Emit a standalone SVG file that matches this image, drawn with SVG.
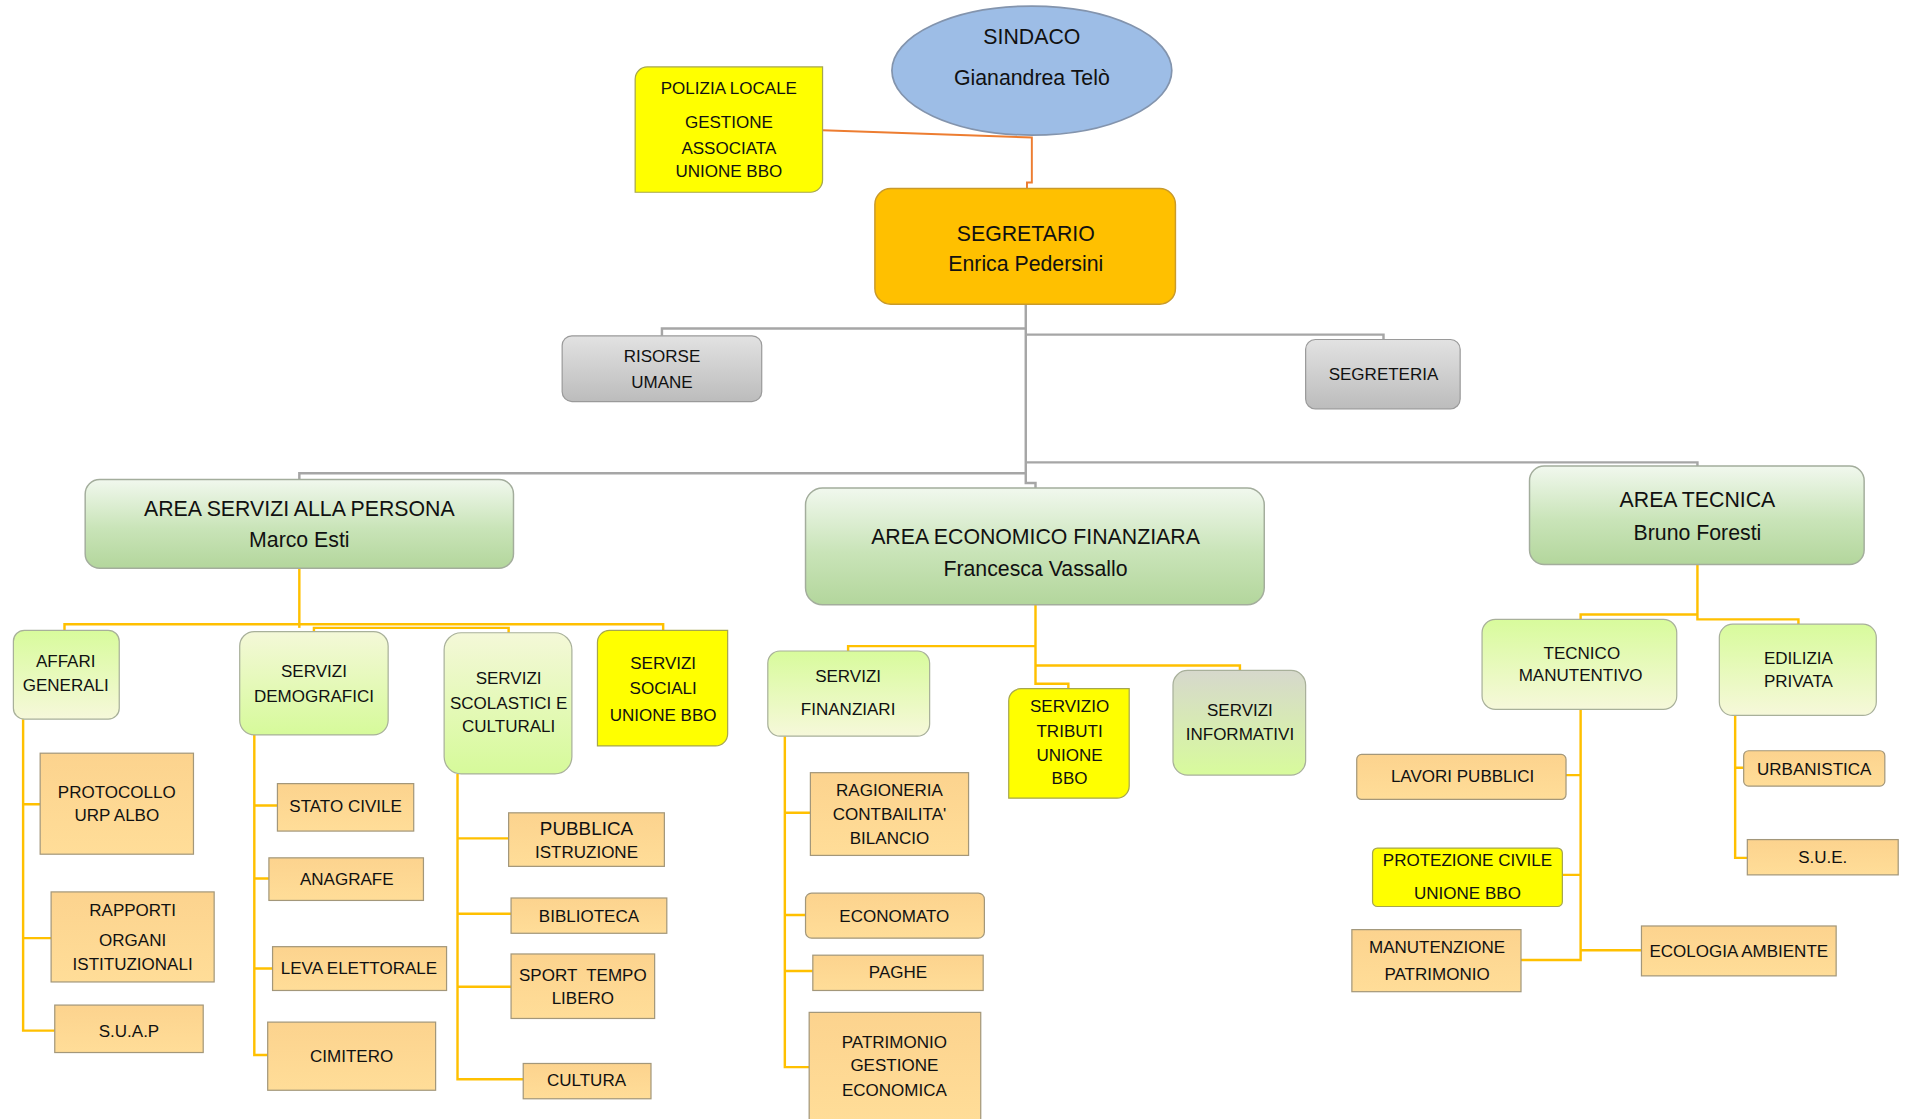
<svg xmlns="http://www.w3.org/2000/svg" width="1908" height="1119" viewBox="0 0 1908 1119">
<defs>
<linearGradient id="gArea" x1="0" y1="0" x2="0" y2="1">
<stop offset="0" stop-color="#f1f8ee"/><stop offset="0.55" stop-color="#c9e4b8"/><stop offset="1" stop-color="#b3d69c"/>
</linearGradient>
<linearGradient id="gGreenDown" x1="0" y1="0" x2="0" y2="1">
<stop offset="0" stop-color="#d8fb9c"/><stop offset="1" stop-color="#f6f8da"/>
</linearGradient>
<linearGradient id="gGreenUp" x1="0" y1="0" x2="0" y2="1">
<stop offset="0" stop-color="#f4f8d8"/><stop offset="1" stop-color="#d6fa9a"/>
</linearGradient>
<linearGradient id="gInfo" x1="0" y1="0" x2="0" y2="1">
<stop offset="0" stop-color="#d6d8cc"/><stop offset="1" stop-color="#d8fb9c"/>
</linearGradient>
<linearGradient id="gGray" x1="0" y1="0" x2="0" y2="1">
<stop offset="0" stop-color="#e2e2e2"/><stop offset="1" stop-color="#bcbcbc"/>
</linearGradient>
<linearGradient id="gOrange" x1="0" y1="0" x2="0" y2="1">
<stop offset="0" stop-color="#fcd38e"/><stop offset="1" stop-color="#ffdd98"/>
</linearGradient>
<style>
.t{font-family:'Liberation Sans',Arial,sans-serif;fill:#111;text-anchor:middle;dominant-baseline:central}
.s{font-size:14px}
.m{font-size:15.5px}
.l{font-size:17.5px}
.area{fill:url(#gArea);stroke:#a3ad9c;stroke-width:1.2}
.gd{fill:url(#gGreenDown);stroke:#a8b09a;stroke-width:1}
.gu{fill:url(#gGreenUp);stroke:#a8b09a;stroke-width:1}
.gray{fill:url(#gGray);stroke:#9a9a9a;stroke-width:1}
.or{fill:url(#gOrange);stroke:#a3977a;stroke-width:1}
.yel{fill:#ffff00;stroke:#a6a64e;stroke-width:1}
.cg{fill:none;stroke:#a6a6a6;stroke-width:2}
.cy{fill:none;stroke:#ffc000;stroke-width:2}
.co{fill:none;stroke:#ed7d31;stroke-width:1.6}
</style>
</defs>
<rect width="1908" height="1119" fill="#ffffff"/>
<g transform="scale(1.2168)">
<g id="connectors">
<path class="co" d="M676,107 L848,113 V150 H844 V155"/>
<path class="cg" d="M843,250 V397 H851 V401"/>
<path class="cg" d="M544,276 V270 H843"/>
<path class="cg" d="M1137,279 V275 H843"/>
<path class="cg" d="M246,394 V389 H843"/>
<path class="cg" d="M1395,383 V380 H843"/>
<path class="cy" d="M246,467 V516"/>
<path class="cy" d="M53,518 V513 H545 V518"/>
<path class="cy" d="M258,519 V516 H418 V520"/>
<path class="cy" d="M19,591 V847 H45 M19,661 H33 M19,771 H42"/>
<path class="cy" d="M209,604 V867 H220 M209,662 H228 M209,722 H221 M209,796 H224"/>
<path class="cy" d="M376,636 V887 H430 M376,689 H418 M376,751 H420 M376,811 H420"/>
<path class="cy" d="M851,497 V562 H878 V566"/>
<path class="cy" d="M697,535 V531 H851"/>
<path class="cy" d="M851,547 H1019 V551"/>
<path class="cy" d="M645,605 V877 H665 M645,668 H666 M645,752 H662 M645,798 H668"/>
<path class="cy" d="M1395,464 V509 H1478 V513"/>
<path class="cy" d="M1299,509 V505 H1395"/>
<path class="cy" d="M1299,583 V789 H1250 M1287,637 H1299 M1284,719 H1299 M1299,781 H1349"/>
<path class="cy" d="M1426,588 V705 H1436 M1426,631 H1433"/>
</g>

<g id="sindaco">
<ellipse cx="848" cy="58" rx="115" ry="53" fill="#9dbde6" stroke="#8394ad" stroke-width="1.4"/>
<text class="t l" x="848" y="30">SINDACO</text>
<text class="t l" x="848" y="64">Gianandrea Telò</text>
</g>
<g id="polizia">
<path class="yel" d="M522,65 A10,10 0 0 1 532,55 H676 V148 A10,10 0 0 1 666,158 H522 Z"/>
<text class="t s" x="599" y="73">POLIZIA LOCALE</text>
<text class="t s" x="599" y="101">GESTIONE</text>
<text class="t s" x="599" y="122">ASSOCIATA</text>
<text class="t s" x="599" y="141">UNIONE BBO</text>
</g>
<g id="segretario">
<rect x="719" y="155" width="247" height="95" rx="13" fill="#ffc000" stroke="#c99a2a" stroke-width="1.2"/>
<text class="t l" x="843" y="192">SEGRETARIO</text>
<text class="t l" x="843" y="217">Enrica Pedersini</text>
</g>
<g id="risorse-umane">
<rect class="gray" x="462" y="276" width="164" height="54" rx="8"/>
<text class="t s" x="544" y="293">RISORSE</text>
<text class="t s" x="544" y="314">UMANE</text>
</g>
<g id="segreteria">
<rect class="gray" x="1073" y="279" width="127" height="57" rx="8"/>
<text class="t s" x="1137" y="308">SEGRETERIA</text>
</g>

<g id="area-persona">
<rect class="area" x="70" y="394" width="352" height="73" rx="12"/>
<text class="t l" x="246" y="418">AREA SERVIZI ALLA PERSONA</text>
<text class="t l" x="246" y="444">Marco Esti</text>
</g>
<g id="area-economico">
<rect class="area" x="662" y="401" width="377" height="96" rx="14"/>
<text class="t l" x="851" y="441">AREA ECONOMICO FINANZIARA</text>
<text class="t l" x="851" y="468">Francesca Vassallo</text>
</g>
<g id="area-tecnica">
<rect class="area" x="1257" y="383" width="275" height="81" rx="12"/>
<text class="t l" x="1395" y="411">AREA TECNICA</text>
<text class="t l" x="1395" y="438">Bruno Foresti</text>
</g>

<g id="affari-generali">
<rect class="gd" x="11" y="518" width="87" height="73" rx="9"/>
<text class="t s" x="54" y="544">AFFARI</text>
<text class="t s" x="54" y="563">GENERALI</text>
</g>
<g id="servizi-demografici">
<rect class="gu" x="197" y="519" width="122" height="85" rx="12"/>
<text class="t s" x="258" y="552">SERVIZI</text>
<text class="t s" x="258" y="572">DEMOGRAFICI</text>
</g>
<g id="servizi-scolastici">
<rect class="gu" x="365" y="520" width="105" height="116" rx="14"/>
<text class="t s" x="418" y="558">SERVIZI</text>
<text class="t s" x="418" y="578">SCOLASTICI E</text>
<text class="t s" x="418" y="597">CULTURALI</text>
</g>
<g id="servizi-sociali">
<path class="yel" d="M491,528 A10,10 0 0 1 501,518 H598 V603 A10,10 0 0 1 588,613 H491 Z"/>
<text class="t s" x="545" y="545">SERVIZI</text>
<text class="t s" x="545" y="566">SOCIALI</text>
<text class="t s" x="545" y="588">UNIONE BBO</text>
</g>

<g id="protocollo">
<rect class="or" x="33" y="619" width="126" height="83"/>
<text class="t s" x="96" y="651">PROTOCOLLO</text>
<text class="t s" x="96" y="670">URP ALBO</text>
</g>
<g id="rapporti">
<rect class="or" x="42" y="733" width="134" height="74"/>
<text class="t s" x="109" y="748">RAPPORTI</text>
<text class="t s" x="109" y="773">ORGANI</text>
<text class="t s" x="109" y="793">ISTITUZIONALI</text>
</g>
<g id="suap">
<rect class="or" x="45" y="826" width="122" height="39"/>
<text class="t s" x="106" y="848">S.U.A.P</text>
</g>

<g id="stato-civile">
<rect class="or" x="228" y="644" width="112" height="39"/>
<text class="t s" x="284" y="663">STATO CIVILE</text>
</g>
<g id="anagrafe">
<rect class="or" x="221" y="705" width="127" height="35"/>
<text class="t s" x="285" y="723">ANAGRAFE</text>
</g>
<g id="leva-elettorale">
<rect class="or" x="224" y="778" width="143" height="36"/>
<text class="t s" x="295" y="796">LEVA ELETTORALE</text>
</g>
<g id="cimitero">
<rect class="or" x="220" y="840" width="138" height="56"/>
<text class="t s" x="289" y="868">CIMITERO</text>
</g>

<g id="pubblica-istruzione">
<rect class="or" x="418" y="668" width="128" height="44"/>
<text class="t m" x="482" y="681">PUBBLICA</text>
<text class="t s" x="482" y="701">ISTRUZIONE</text>
</g>
<g id="biblioteca">
<rect class="or" x="420" y="738" width="128" height="29"/>
<text class="t s" x="484" y="753">BIBLIOTECA</text>
</g>
<g id="sport">
<rect class="or" x="420" y="784" width="118" height="53"/>
<text class="t s" x="479" y="802" xml:space="preserve">SPORT  TEMPO</text>
<text class="t s" x="479" y="821">LIBERO</text>
</g>
<g id="cultura">
<rect class="or" x="430" y="874" width="105" height="29" stroke="none"/>
<text class="t s" x="482" y="888">CULTURA</text>
</g>

<g id="servizi-finanziari">
<rect class="gd" x="631" y="535" width="133" height="70" rx="10"/>
<text class="t s" x="697" y="556">SERVIZI</text>
<text class="t s" x="697" y="583">FINANZIARI</text>
</g>
<g id="servizio-tributi">
<path class="yel" d="M829,576 A10,10 0 0 1 839,566 H928 V646 A10,10 0 0 1 918,656 H829 Z"/>
<text class="t s" x="879" y="581">SERVIZIO</text>
<text class="t s" x="879" y="601">TRIBUTI</text>
<text class="t s" x="879" y="621">UNIONE</text>
<text class="t s" x="879" y="640">BBO</text>
</g>
<g id="servizi-informativi">
<rect class="gu" x="964" y="551" width="109" height="86" rx="12" style="fill:url(#gInfo)"/>
<text class="t s" x="1019" y="584">SERVIZI</text>
<text class="t s" x="1019" y="604">INFORMATIVI</text>
</g>

<g id="ragioneria">
<rect class="or" x="666" y="635" width="130" height="68"/>
<text class="t s" x="731" y="650">RAGIONERIA</text>
<text class="t s" x="731" y="669">CONTBAILITA'</text>
<text class="t s" x="731" y="689">BILANCIO</text>
</g>
<g id="economato">
<rect class="or" x="662" y="734" width="147" height="37" rx="5"/>
<text class="t s" x="735" y="753">ECONOMATO</text>
</g>
<g id="paghe">
<rect class="or" x="668" y="785" width="140" height="29"/>
<text class="t s" x="738" y="799">PAGHE</text>
</g>
<g id="patrimonio">
<rect class="or" x="665" y="832" width="141" height="90"/>
<text class="t s" x="735" y="857">PATRIMONIO</text>
<text class="t s" x="735" y="876">GESTIONE</text>
<text class="t s" x="735" y="896">ECONOMICA</text>
</g>

<g id="tecnico-manutentivo">
<rect class="gd" x="1218" y="509" width="160" height="74" rx="11"/>
<text class="t s" x="1300" y="537">TECNICO</text>
<text class="t s" x="1299" y="555">MANUTENTIVO</text>
</g>
<g id="edilizia-privata">
<rect class="gd" x="1413" y="513" width="129" height="75" rx="11"/>
<text class="t s" x="1478" y="541">EDILIZIA</text>
<text class="t s" x="1478" y="560">PRIVATA</text>
</g>
<g id="lavori-pubblici">
<rect class="or" x="1115" y="620" width="172" height="37" rx="4"/>
<text class="t s" x="1202" y="638">LAVORI PUBBLICI</text>
</g>
<g id="protezione-civile">
<rect class="yel" x="1128" y="697" width="156" height="48" rx="4"/>
<text class="t s" x="1206" y="707">PROTEZIONE CIVILE</text>
<text class="t s" x="1206" y="734">UNIONE BBO</text>
</g>
<g id="manutenzione-patrimonio">
<rect class="or" x="1111" y="764" width="139" height="51"/>
<text class="t s" x="1181" y="779">MANUTENZIONE</text>
<text class="t s" x="1181" y="801">PATRIMONIO</text>
</g>
<g id="ecologia-ambiente">
<rect class="or" x="1349" y="761" width="160" height="41"/>
<text class="t s" x="1429" y="782">ECOLOGIA AMBIENTE</text>
</g>
<g id="urbanistica">
<rect class="or" x="1433" y="617" width="116" height="29" rx="4"/>
<text class="t s" x="1491" y="632">URBANISTICA</text>
</g>
<g id="sue">
<rect class="or" x="1436" y="690" width="124" height="29"/>
<text class="t s" x="1498" y="705">S.U.E.</text>
</g>
</g>
</svg>
